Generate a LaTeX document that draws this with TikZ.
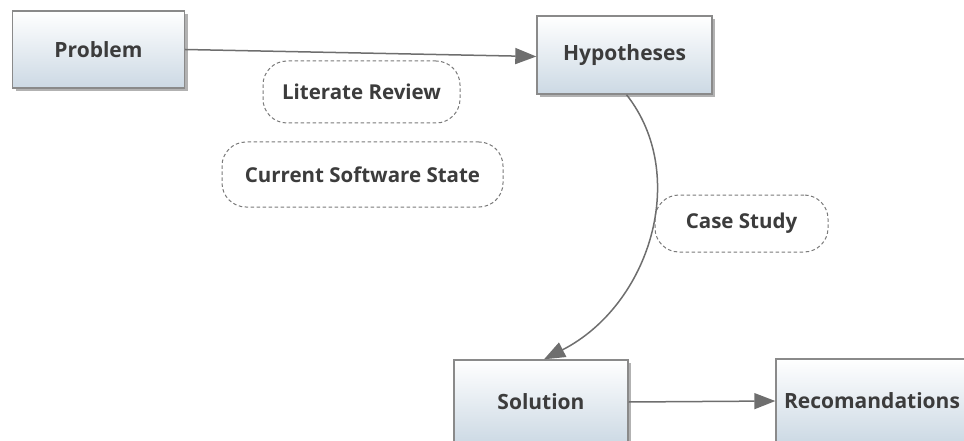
\documentclass[tikz,border=0pt]{standalone}
\usepackage{fontspec}
\setmainfont{Open Sans}
\usetikzlibrary{arrows.meta,shadows,calc}

\definecolor{boxline}{HTML}{8A8A8A}
\definecolor{boxbottom}{HTML}{CCD9E4}
\definecolor{labeltext}{HTML}{3C3C3C}
\definecolor{connector}{HTML}{6E6E6E}
\definecolor{dashline}{HTML}{7A7A7A}

\begin{document}
\begin{tikzpicture}[x=1pt,y=-1pt,
  stagebox/.style={draw=boxline, line width=1.4pt, top color=white, bottom color=boxbottom,
    text=labeltext, font=\bfseries\fontsize{21}{24}\selectfont, inner sep=0pt,
    drop shadow={shadow xshift=3pt, shadow yshift=-3pt, fill=black, opacity=0.3}},
  notebox/.style={draw=dashline, line width=1pt, dash pattern=on 3.5pt off 2.5pt,
    rounded corners=24pt, fill=white, text=labeltext,
    font=\bfseries\fontsize{20.5}{24}\selectfont, inner sep=0pt},
  conn/.style={draw=connector, line width=1.5pt,
    -{Triangle[length=21pt,width=16pt]}},
]
\useasboundingbox (0,0) rectangle (964,441);

% stages
\node[stagebox, minimum width=172pt, minimum height=77pt] (prob) at (98.5,49.5) {Problem};
\node[stagebox, minimum width=175pt, minimum height=78pt] (hyp) at (624.5,55) {Hypotheses};
\node[stagebox, minimum width=174pt, minimum height=84pt] (sol) at (541,402) {Solution};
\node[stagebox, minimum width=192pt, minimum height=84pt] (rec) at (872,401) {Recomandations};

% annotations
\node[notebox, minimum width=197pt, minimum height=62pt] (lit) at (361.5,92) {Literate Review};
\node[notebox, minimum width=281pt, minimum height=65pt] (cur) at (362.5,174.5) {Current Software State};
\node[notebox, minimum width=173pt, minimum height=57pt] (case) at (741.5,223.5) {Case Study};

% connectors
\draw[conn] (prob.east) -- ($(hyp.west)+(0,1.5)$);
\draw[conn] ($(hyp.south)+(2,0)$) .. controls (690,175) and (650,305) .. ($(sol.north)+(3,0)$);
\draw[conn] (sol.east) -- (rec.west);
\end{tikzpicture}
\end{document}
